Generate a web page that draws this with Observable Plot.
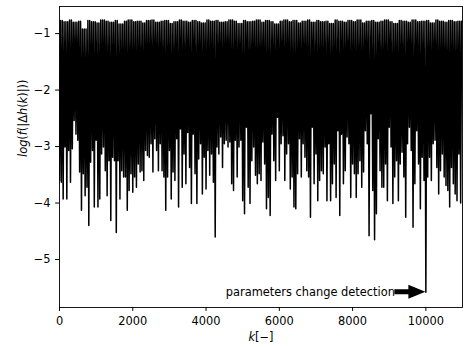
<!DOCTYPE html>
<html><head><meta charset="utf-8">
<script src="https://cdn.jsdelivr.net/npm/d3@7"></script>
<script src="https://cdn.jsdelivr.net/npm/@observablehq/plot@0.6"></script>
<style>body{margin:0;background:#fff;}</style>
</head><body><div id="chart"></div>
<script>
// ---- data ----
const kStep = 50;          // spacing of the lower-envelope samples
const lows = [
-3.60,-3.63,-3.93,-3.01,-3.93,-3.07,-3.63,-3.04,-2.54,-2.78,
-2.89,-3.45,-4.13,-3.48,-3.87,-3.72,-4.40,-3.28,-3.07,-4.07,
-2.89,-4.07,-3.93,-3.13,-3.01,-3.43,-3.87,-3.25,-4.31,-3.19,
-3.25,-4.52,-3.25,-3.93,-3.43,-3.54,-3.54,-4.13,-3.78,-3.48,
-3.81,-3.54,-3.72,-3.31,-3.45,-3.43,-3.60,-3.07,-3.16,-3.19,
-2.95,-3.45,-2.86,-3.07,-3.43,
-2.95,-3.43,-3.54,-4.13,-3.54,-3.07,-3.93,-3.45,-3.60,-2.86,
-4.07,-2.69,-3.72,-3.13,-3.66,-2.75,-3.37,-4.01,-2.78,-3.48,
-4.01,-3.22,-2.95,-3.84,-3.19,-3.75,-3.07,-3.51,-3.13,-3.63,
-4.60,-3.01,-3.13,-2.83,-3.37,-2.95,-2.89,-3.01,-2.92,-3.66,
-3.78,-2.89,-3.54,-3.01,-2.89,-3.96,-4.19,-2.66,-3.72,-4.01,
-3.25,-3.01,-3.51,-3.66,-3.48,
-3.60,-2.92,-3.31,-4.10,-3.90,-4.22,-2.78,-3.25,-3.60,-2.48,
-3.43,-2.95,-2.81,-3.60,-3.13,-2.95,-3.75,-3.54,-4.07,-4.10,
-3.48,-2.86,-3.54,-2.95,-3.19,-3.43,-3.54,-4.25,-2.66,-3.66,
-3.13,-3.96,-3.60,-3.43,-3.48,-3.01,-3.96,-2.95,-3.96,-3.66,
-3.31,-3.90,-2.72,-4.22,-2.78,-3.66,-3.43,-2.83,-2.95,-3.90,
-3.31,-3.48,-3.90,-3.48,-3.25,
-3.72,-3.45,-2.72,-2.95,-4.58,-2.42,-3.78,-4.65,-4.19,-2.86,
-3.43,-3.72,-3.72,-3.31,-3.96,-2.66,-3.01,-4.01,-3.54,-3.25,
-3.96,-3.31,-3.10,-3.54,-4.25,-2.95,-2.66,-3.07,-4.43,-3.66,
-2.72,-3.31,-4.10,-3.19,-3.60,-5.58,-3.54,-3.19,-3.60,-2.95,
-2.89,-3.37,-3.84,-3.43,-3.13,-3.54,-3.69,-3.78,-4.07,-3.37,
-3.66,-3.84,-3.96,-3.13,-4.00
];
const topStep = 125;       // spacing of the upper-envelope samples
const tops = [
-0.77,-0.79,-0.76,-0.80,-0.78,-0.92,-0.77,-0.79,-0.81,-0.76,
-0.78,-0.80,-0.77,-0.83,-0.78,-0.76,-0.79,-0.78,-0.81,-0.77,
-0.76,-0.80,-0.78,-0.77,-0.82,-0.79,-0.76,-0.78,-0.80,-0.77,
-0.79,-0.81,-0.76,-0.78,-0.77,-0.80,-0.79,-0.76,-0.78,-0.82,
-0.77,-0.79,-0.78,-0.76,-0.80,-0.77,-0.79,-0.83,-0.78,-0.76,
-0.79,-0.77,-0.81,-0.78,-0.76,-0.80,-0.77,-0.79,-0.78,-0.82,
-0.76,-0.78,-0.80,-0.77,-0.79,-0.76,-0.81,-0.78,-0.77,-0.80,
-0.78,-0.76,-0.79,-0.82,-0.77,-0.78,-0.80,-0.76,-0.79,-0.78,
-0.77,-0.81,-0.76,-0.78,-0.80,-0.77,-0.79,-0.78
];
const xTicks = [0, 2000, 4000, 6000, 8000, 10000];
const yTicks = [-1, -2, -3, -4, -5];
const xDomain = [0, 11000];
const yDomain = [-5.85, -0.52];
const xLabel = "k[−]";
const yLabel = "log(f(|Δh(k)|))";
const detectK = 10000;
const detectV = -5.58;
const annotText = "parameters change detection";

// ---- build the series ----
const series = [];
lows.forEach((v, i) => {
  series.push({k: i * kStep, v});
  const kt = i * kStep + kStep / 2;
  series.push({k: kt, v: tops[Math.floor(kt / topStep)]});
});

const arrowMark = (index, scales) => {
  const tx = scales.x(detectK), ty = scales.y(detectV);
  const pts = [[tx,ty],[tx-17,ty-7],[tx-17,ty-2.5],[tx-31,ty-2.5],[tx-31,ty+2.5],[tx-17,ty+2.5],[tx-17,ty+7]];
  return d3.create("svg:polygon")
    .attr("points", pts.map(p => p.join(",")).join(" "))
    .attr("fill", "black").node();
};

const chart = Plot.plot({
  width: 465, height: 347,
  marginLeft: 59, marginRight: 3, marginTop: 6, marginBottom: 40,
  style: {fontFamily: "DejaVu Sans", fontSize: "11.4px", background: "white", color: "black"},
  x: {domain: xDomain},
  y: {domain: yDomain},
  marks: [
    Plot.line(series, {x: "k", y: "v", stroke: "black", strokeWidth: 1.5, clip: true}),
    Plot.frame({stroke: "black", strokeWidth: 0.9}),
    Plot.axisX(xTicks, {tickSize: 3.9, tickPadding: 5.4, tickFormat: d => String(d), label: null, stroke: "black"}),
    Plot.axisY(yTicks, {tickSize: 3.9, tickPadding: 5.0, tickFormat: d => "−" + Math.abs(d), label: null, stroke: "black"}),
    Plot.text([xLabel], {frameAnchor: "bottom", dy: 30, lineAnchor: "middle", text: d => d, fill: "black"}),
    Plot.text([yLabel], {frameAnchor: "left", rotate: -90, dx: -36, lineAnchor: "middle", text: d => d, fill: "black"}),
    Plot.text([{k: detectK, v: detectV, t: annotText}], {x: "k", y: "v", text: "t", textAnchor: "end", dx: -31, lineAnchor: "middle", fill: "black"}),
    arrowMark
  ]
});
document.getElementById("chart").append(chart);

// mathtext-like italics for the axis labels
const parts = {
  [yLabel]: [["log","i"],["(","n"],["f","i"],["(|Δ","n"],["h","i"],["(","n"],["k","i"],[")|))","n"]],
  [xLabel]: [["k","i"],["[−]","n"]]
};
chart.querySelectorAll("text").forEach(t => {
  const p = parts[t.textContent];
  if (!p) return;
  t.textContent = "";
  for (const [s, st] of p) {
    const ts = document.createElementNS("http://www.w3.org/2000/svg", "tspan");
    ts.textContent = s;
    if (st === "i") ts.setAttribute("font-style", "italic");
    t.appendChild(ts);
  }
});
</script></body></html>
